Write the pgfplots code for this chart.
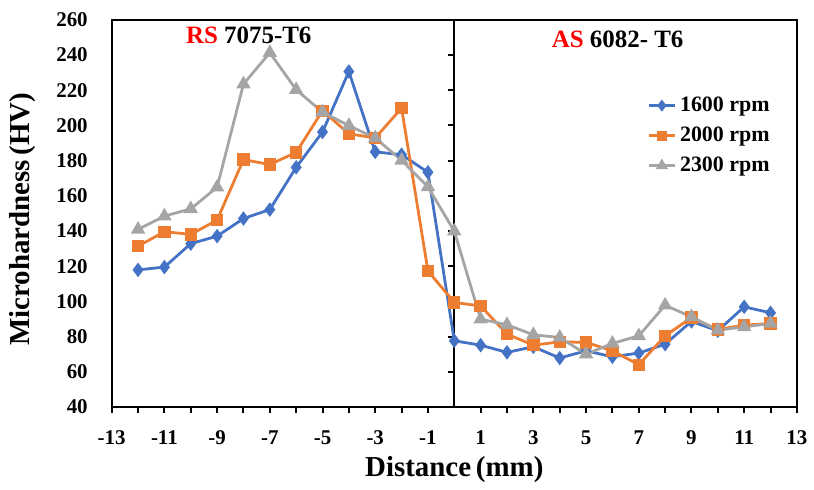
\documentclass[border=0pt]{standalone}
\usepackage{pgfplots}
\pgfplotsset{compat=1.18}
\usepackage{fontspec}
\setmainfont{Liberation Serif}
\definecolor{c1600}{HTML}{4472C4}
\definecolor{c2000}{HTML}{ED7D31}
\definecolor{c2300}{HTML}{A5A5A5}
\definecolor{lblred}{HTML}{FF0000}
\begin{document}
\begin{tikzpicture}
\begin{axis}[
    scale only axis,
    width=343.5pt, height=194pt,
    xmin=-13, xmax=13,
    ymin=40, ymax=260,
    axis line style={line width=1pt},
    xtick={-13,-11,...,13},
    minor xtick={-12,-10,...,-2,2,4,...,12},
    ytick={40,60,...,260},
    xtick pos=lower,
    tick align=outside,
    major tick length=3pt, minor tick length=3pt,
    every tick/.style={black, line width=1pt},
    ytick style={draw=none},
    /pgf/number format/assume math mode=true,
    ticklabel style={font=\bfseries\fontsize{10.5}{12}\selectfont},
    yticklabel style={xshift=-5.5pt},
    xticklabel style={yshift=-5.5pt},
    xlabel={Distance\,(mm)},
    ylabel={Microhardness\,(HV)},
    label style={font=\bfseries\fontsize{14.5}{16}\selectfont},
    ylabel style={at={(axis description cs:-0.1295,0.485)}, anchor=center},
    xlabel style={at={(axis description cs:0.5,0)}, yshift=-31.5pt, anchor=center},
    legend style={draw=none, fill=none, at={(0.773,0.823)}, anchor=north west,
        font=\bfseries\fontsize{11}{13}\selectfont, row sep=2.2pt},
    legend cell align=left,
    legend image post style={scale=0.75},
    every axis plot/.append style={line width=1.4pt},
]
\draw[line width=1pt] (axis cs:0,40) -- (axis cs:0,260);
\pgfplotsinvokeforeach{60,80,...,240}{
    \draw[line width=1pt] (axis cs:0,#1) -- ++(-3pt,0pt);
}
\addplot[color=c1600, mark=diamond*, mark size=2.5pt] coordinates {
(-12,117.9)(-11,119.5)(-10,132.8)(-9,137.1)(-8,147.1)(-7,152.2)(-6,176.2)(-5,196.3)(-4,230.7)(-3,185)(-2,183.4)(-1,173.4)(0,77.6)
(1,75.1)(2,71)(3,74.2)(4,67.8)(5,71.9)(6,68.5)(7,70.6)(8,75.7)(9,88.6)(10,83.3)(11,96.9)(12,93.5)
};
\addplot[color=c2000, mark=square*, mark size=2.4pt] coordinates {
(-12,131.4)(-11,139.6)(-10,138.1)(-9,146.2)(-8,180.6)(-7,177.8)(-6,184.7)(-5,208.4)(-4,195.3)(-3,192.9)(-2,209.9)(-1,117.3)(0,99.4)
(1,97.4)(2,81.4)(3,75.1)(4,77)(5,76.7)(6,71.9)(7,64)(8,80.4)(9,90.8)(10,84)(11,86.5)(12,87.4)
};
\addplot[color=c2300, mark=triangle*, mark size=2.8pt] coordinates {
(-12,140.9)(-11,148.5)(-10,152.6)(-9,164.9)(-8,223.5)(-7,241.4)(-6,220.3)(-5,207.6)(-4,199.9)(-3,192.9)(-2,180.2)(-1,165.1)(0,139.9)
(1,89.9)(2,86.7)(3,81)(4,79.5)(5,70)(6,76.1)(7,80.4)(8,97.8)(9,91.2)(10,83.6)(11,85.5)(12,87.4)
};
\legend{1600 rpm,2000 rpm,2300 rpm}
\node[font=\bfseries\fontsize{12.5}{14}\selectfont] at (axis cs:-7.8,251.5) {\textcolor{lblred}{RS} 7075-T6};
\node[font=\bfseries\fontsize{12.5}{14}\selectfont] at (axis cs:6.2,249) {\textcolor{lblred}{AS} 6082- T6};
\end{axis}
\path ([shift={(-56pt,-38.5pt)}]current axis.south west) rectangle ([shift={(7.5pt,10pt)}]current axis.north east);
\end{tikzpicture}
\end{document}
